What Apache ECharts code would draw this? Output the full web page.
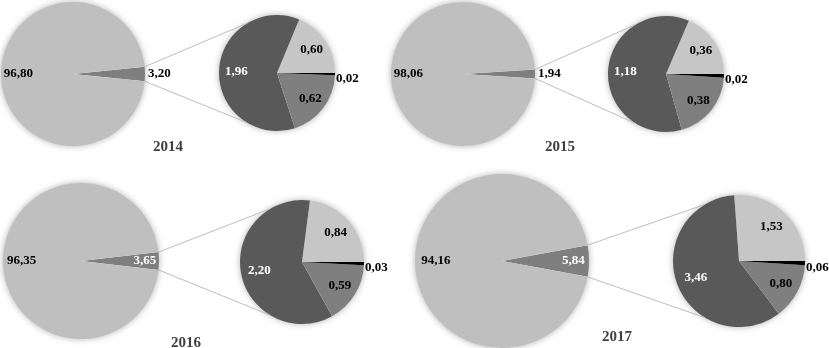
<!DOCTYPE html>
<html>
<head>
<meta charset="utf-8">
<script src="https://cdn.jsdelivr.net/npm/echarts@6/dist/echarts.min.js"></script>
<style>html,body{margin:0;padding:0;background:#fff}#c{width:829px;height:348px}</style>
</head>
<body>
<div id="c"></div>
<script>
// ---- data ----
const years = ['2014', '2015', '2016', '2017'];
const mainOther = [96.80, 98.06, 96.35, 94.16];
const mainShare = [3.20, 1.94, 3.65, 5.84];
const partLight = [0.60, 0.36, 0.84, 1.53];
const partDark = [1.96, 1.18, 2.20, 3.46];
const partMedium = [0.62, 0.38, 0.59, 0.80];
const partBlack = [0.02, 0.02, 0.03, 0.06];

// ---- layout (pixels) ----
const layout = [
  { big: [73, 74, 72], small: [277, 73, 58], title: [168, 147], shareInside: false },
  { big: [463, 74, 72], small: [666, 74, 58], title: [560, 147], shareInside: false },
  { big: [81, 261, 78], small: [302, 262, 62], title: [186, 343], shareInside: true },
  { big: [502, 261, 87], small: [739, 261, 66], title: [617, 337], shareInside: true }
];

const FONT = '"Liberation Serif", "Times New Roman", serif';
const fmt = v => v.toFixed(2).replace('.', ',');
const rad = d => d * Math.PI / 180;

function mids(values, start) {
  const tot = values.reduce((a, b) => a + b, 0);
  let a = start;
  return values.map(v => { const s = v / tot * 360; const m = a + s / 2; a += s; return m; });
}

const series = [];
const graphics = [];

years.forEach((yr, i) => {
  const L = layout[i];
  const [bx, by, br] = L.big;
  const [sx, sy, sr] = L.small;
  const bigVals = [mainShare[i], mainOther[i]];
  const half = mainShare[i] / (mainShare[i] + mainOther[i]) * 360 / 2;
  const bigStart = -half;
  const bigMid = mids(bigVals, bigStart);
  const bigPos = [
    L.shareInside
      ? { x: bx + 0.82 * br * Math.cos(rad(bigMid[0])), y: by - 0.82 * br * Math.sin(rad(bigMid[0])), align: 'center' }
      : { x: bx + br + 3, y: by, align: 'left' },
    { x: bx + 0.76 * br * Math.cos(rad(bigMid[1])), y: by - 0.76 * br * Math.sin(rad(bigMid[1])), align: 'center' }
  ];
  series.push({
    type: 'pie',
    center: [bx, by],
    radius: br,
    startAngle: bigStart,
    clockwise: false,
    avoidLabelOverlap: false,
    animation: false,
    silent: true,
    label: { show: true, position: 'inside', fontFamily: FONT, fontWeight: 'bold', fontSize: 13, color: '#000',
             formatter: p => fmt(p.value) },
    labelLine: { show: false },
    labelLayout: p => Object.assign({ verticalAlign: 'middle' }, bigPos[p.dataIndex]),
    data: [
      { value: mainShare[i], name: 'share', itemStyle: { color: '#7f7f7f' },
        label: { color: L.shareInside ? '#fff' : '#000' } },
      { value: mainOther[i], name: 'other', itemStyle: { color: '#bfbfbf' } }
    ]
  });

  const smallVals = [partLight[i], partDark[i], partMedium[i], partBlack[i]];
  const sMid = mids(smallVals, 0);
  const ks = [0.72, 0.70, 0.72];
  const smallPos = sMid.map((m, j) => {
    if (j === 3) {
      return { x: sx + (sr + 1) * Math.cos(rad(m)), y: sy - (sr + 1) * Math.sin(rad(m)) + 4, align: 'left' };
    }
    return { x: sx + ks[j] * sr * Math.cos(rad(m)), y: sy - ks[j] * sr * Math.sin(rad(m)), align: 'center' };
  });
  series.push({
    type: 'pie',
    center: [sx, sy],
    radius: sr,
    startAngle: 0,
    clockwise: false,
    avoidLabelOverlap: false,
    animation: false,
    silent: true,
    label: { show: true, position: 'inside', fontFamily: FONT, fontWeight: 'bold', fontSize: 13, color: '#000',
             formatter: p => fmt(p.value) },
    labelLine: { show: false },
    labelLayout: p => Object.assign({ verticalAlign: 'middle' }, smallPos[p.dataIndex]),
    data: [
      { value: partLight[i], name: 'a', itemStyle: { color: '#c6c6c6' } },
      { value: partDark[i], name: 'b', itemStyle: { color: '#595959' }, label: { color: '#fff' } },
      { value: partMedium[i], name: 'c', itemStyle: { color: '#7f7f7f' } },
      { value: partBlack[i], name: 'd', itemStyle: { color: '#000' } }
    ]
  });

  // soft shadows behind pies
  [[bx, by, br], [sx, sy, sr]].forEach(([cx, cy, r]) => {
    graphics.push({ type: 'circle', z: -10, silent: true, shape: { cx, cy, r: r - 0.5 },
      style: { fill: '#fff', shadowBlur: 7, shadowColor: 'rgba(0,0,0,0.35)' } });
  });
  // connector lines
  const ang = 121;
  [1, -1].forEach(sg => {
    graphics.push({ type: 'line', z: 5, silent: true,
      shape: {
        x1: bx + br * Math.cos(rad(sg * half)), y1: by - br * Math.sin(rad(sg * half)),
        x2: sx + sr * Math.cos(rad(sg * ang)), y2: sy - sr * Math.sin(rad(sg * ang))
      },
      style: { stroke: '#bdbdbd', lineWidth: 1 } });
  });

  // year caption
  graphics.push({ type: 'text', z: 10, silent: true, x: L.title[0], y: L.title[1],
    style: { text: yr, fontFamily: FONT, fontWeight: 'bold', fontSize: 15, fill: '#404040',
             align: 'center', verticalAlign: 'middle' } });
});

const chart = echarts.init(document.getElementById('c'), null, { renderer: 'canvas' });
chart.setOption({
  backgroundColor: '#fff',
  animation: false,
  graphic: { elements: graphics },
  series: series
});
</script>
</body>
</html>
